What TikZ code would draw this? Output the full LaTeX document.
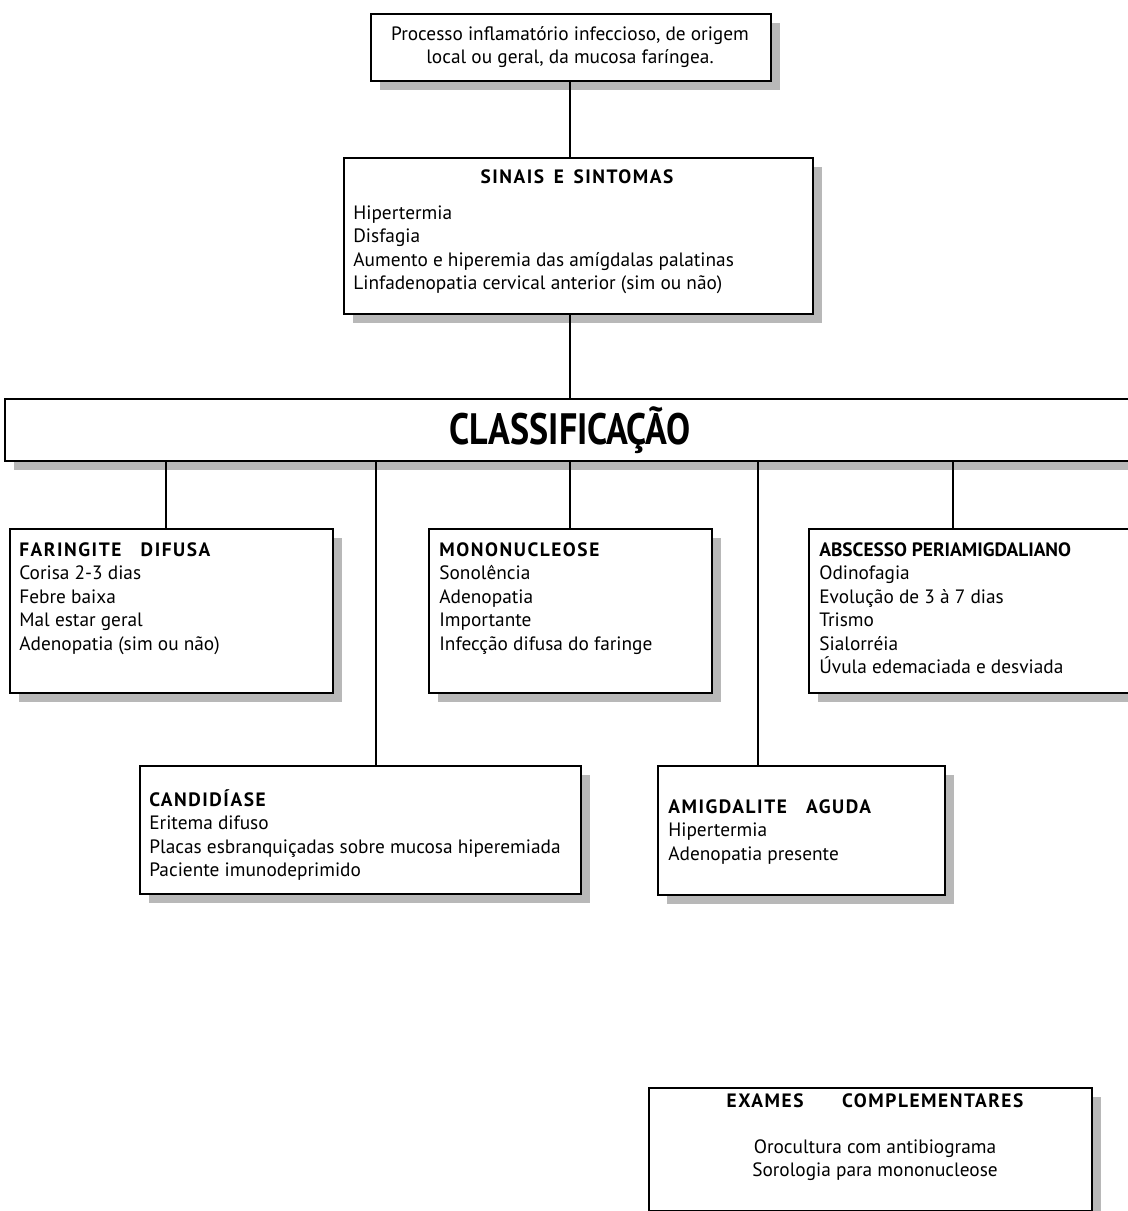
\documentclass[tikz,border=0pt]{standalone}
\usepackage{fontspec}
\setmainfont{PT Sans}
\newfontfamily\headfont[LetterSpace=8]{PT Sans}
\newfontfamily\bigfont[FakeStretch=0.82]{PT Sans}
\usetikzlibrary{shadows,positioning}

\begin{document}
\begin{tikzpicture}[
x=0.02cm,
y=-0.02cm,
box/.style={
  draw,
  line width=1.1pt,
  fill=white,
  anchor=north west,
  inner sep=0pt,
  drop shadow={shadow xshift=0.18cm, shadow yshift=-0.18cm, fill=black!28, opacity=1}
  },
txt/.style={
  anchor=north west,
  align=left,
  inner sep=0pt,
  font=\fontsize{11}{13.4}\selectfont
  },
ttl/.style={
  inner sep=0pt,
  font=\headfont\bfseries\fontsize{11}{13.4}\selectfont
  },
link/.style={line width=1pt}
]
\useasboundingbox (0,0) rectangle (1127,1211);

% boxes
\node[box, minimum width=8cm, minimum height=1.34cm] (top) at (370,13) {};
\node[box, minimum width=9.38cm, minimum height=3.12cm] (sinais) at (343,157) {};
\node[box, minimum width=22.8cm, minimum height=1.24cm] (classif) at (4,398) {};
\node[box, minimum width=6.46cm, minimum height=3.28cm] (faring) at (9,528) {};
\node[box, minimum width=5.66cm, minimum height=3.28cm] (mono) at (428,528) {};
\node[box, minimum width=6.8cm, minimum height=3.28cm] (absc) at (808,528) {};
\node[box, minimum width=8.82cm, minimum height=2.56cm] (cand) at (139,765) {};
\node[box, minimum width=5.74cm, minimum height=2.58cm] (amig) at (657,765) {};
\node[box, minimum width=8.86cm, minimum height=2.46cm] (exames) at (648,1087) {};

% texts
\node[txt, anchor=center, align=center] (top-txt) at (570,47)
  {Processo inflamatório infeccioso, de origem\\local ou geral, da mucosa faríngea.};
\node[ttl] (sinais-ttl) at (577,177) {SINAIS\enspace E\enspace SINTOMAS};
\node[txt] (sinais-txt) at (353,205)
  {Hipertermia\\Disfagia\\Aumento e hiperemia das amígdalas palatinas\\Linfadenopatia cervical anterior (sim ou não)};
\node[inner sep=0pt, font=\bigfont\bfseries\fontsize{25}{30}\selectfont] (classif-txt) at (570,430) {CLASSIFICAÇÃO};
\node[txt] (faring-txt) at (19,542)
  {{\headfont\bfseries FARINGITE\quad DIFUSA}\\Corisa 2-3 dias\\Febre baixa\\Mal estar geral\\Adenopatia (sim ou não)};
\node[txt] (mono-txt) at (439,542)
  {{\headfont\bfseries MONONUCLEOSE}\\Sonolência\\Adenopatia\\Importante\\Infecção difusa do faringe};
\node[txt] (absc-txt) at (819,542)
  {{\bfseries ABSCESSO PERIAMIGDALIANO}\\Odinofagia\\Evolução de 3 à 7 dias\\Trismo\\Sialorréia\\Úvula edemaciada e desviada};
\node[txt] (cand-txt) at (149,789)
  {{\headfont\bfseries CANDIDÍASE}\\Eritema difuso\\Placas esbranquiçadas sobre mucosa hiperemiada\\Paciente imunodeprimido};
\node[txt] (amig-txt) at (668,799)
  {{\headfont\bfseries AMIGDALITE\quad AGUDA}\\Hipertermia\\Adenopatia presente};
\node[ttl] (exames-ttl) at (875,1101) {EXAMES\qquad COMPLEMENTARES};
\node[txt, anchor=center, align=center] (exames-txt) at (875,1160)
  {Orocultura com antibiograma\\Sorologia para mononucleose};

% connectors
\coordinate (spine) at (570,0);
\coordinate (faring-in) at (166,528);
\coordinate (cand-in) at (376,765);
\coordinate (amig-in) at (758,765);
\coordinate (absc-in) at (953,528);
\draw[link] (spine |- top.south) -- (spine |- sinais.north);
\draw[link] (spine |- sinais.south) -- (spine |- classif.north);
\draw[link] (faring-in) -- (faring-in |- classif.south);
\draw[link] (spine |- mono.north) -- (spine |- classif.south);
\draw[link] (cand-in) -- (cand-in |- classif.south);
\draw[link] (amig-in) -- (amig-in |- classif.south);
\draw[link] (absc-in) -- (absc-in |- classif.south);
\end{tikzpicture}
\end{document}
